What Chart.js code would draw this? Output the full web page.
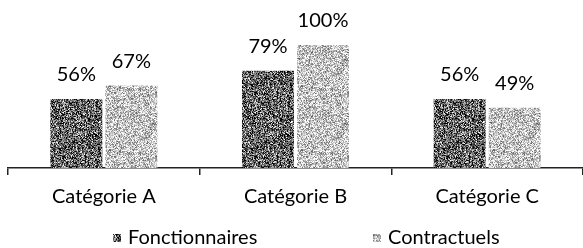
<!DOCTYPE html>
<html>
<head>
<meta charset="utf-8">
<script src="https://cdn.jsdelivr.net/npm/chart.js@4/dist/chart.umd.min.js"></script>
<style>
  html, body { margin: 0; padding: 0; background: #fff; }
  #wrap { width: 583px; height: 248px; }
</style>
</head>
<body>
<div id="wrap"><canvas id="c" width="583" height="248"></canvas></div>
<script>
const categories = ['Catégorie A', 'Catégorie B', 'Catégorie C'];
const seriesNames = ['Fonctionnaires', 'Contractuels'];
const fonctionnaires = [56, 79, 56];
const contractuels = [67, 100, 49];

const FONT = 'Lato, "Open Sans", sans-serif';

// deterministic speckle texture (style only)
function speckle(mean, spread, seed) {
  const c = document.createElement('canvas');
  c.width = 64; c.height = 64;
  const g = c.getContext('2d');
  const img = g.createImageData(64, 64);
  let s = seed >>> 0;
  function rnd() { s = (Math.imul(s, 1664525) + 1013904223) >>> 0; return s / 4294967296; }
  for (let i = 0; i < 64 * 64; i++) {
    let v = mean + (rnd() - 0.5) * spread + (rnd() - 0.5) * spread * 0.6;
    v = Math.max(0, Math.min(255, v));
    img.data[i * 4] = v; img.data[i * 4 + 1] = v; img.data[i * 4 + 2] = v; img.data[i * 4 + 3] = 255;
  }
  g.putImageData(img, 0, 0);
  return g.createPattern(c, 'repeat');
}
const darkFill = speckle(100, 220, 12345);
const lightFill = speckle(196, 140, 67890);

const valueLabels = {
  id: 'valueLabels',
  afterDatasetsDraw(chart) {
    const ctx = chart.ctx;
    ctx.save();
    ctx.font = '20px ' + FONT;
    ctx.fillStyle = '#000';
    ctx.textAlign = 'center';
    ctx.textBaseline = 'alphabetic';
    chart.data.datasets.forEach((ds, di) => {
      const meta = chart.getDatasetMeta(di);
      meta.data.forEach((bar, i) => {
        ctx.fillText(ds.data[i] + '%', bar.x, bar.y - 18);
      });
    });
    ctx.restore();
  }
};

const bottomLegend = {
  id: 'bottomLegend',
  afterDraw(chart) {
    const ctx = chart.ctx;
    const xs = [113, 373];
    const yc = 238;
    ctx.save();
    ctx.font = '20px ' + FONT;
    ctx.textAlign = 'left';
    ctx.textBaseline = 'middle';
    chart.data.datasets.forEach((ds, di) => {
      ctx.fillStyle = ds.backgroundColor;
      ctx.fillRect(xs[di], yc - 4, 8, 8);
      ctx.fillStyle = '#000';
      ctx.fillText(ds.label, xs[di] + 15, yc);
    });
    ctx.restore();
  }
};

new Chart(document.getElementById('c'), {
  type: 'bar',
  data: {
    labels: categories,
    datasets: [
      { label: seriesNames[0], data: fonctionnaires, backgroundColor: darkFill,
        categoryPercentage: 0.574, barPercentage: 0.945 },
      { label: seriesNames[1], data: contractuels, backgroundColor: lightFill,
        categoryPercentage: 0.574, barPercentage: 0.945 }
    ]
  },
  options: {
    responsive: false,
    animation: false,
    devicePixelRatio: 1,
    layout: { padding: { top: 8, left: 8, right: 0, bottom: 0 } },
    plugins: {
      legend: { display: false },
      tooltip: { enabled: false }
    },
    scales: {
      y: { display: false, min: 0, max: 130 },
      x: {
        afterFit(scale) { scale.height = 80; },
        grid: { display: true, drawOnChartArea: false, drawTicks: true, tickLength: 7, color: '#222', lineWidth: 1.5, offset: true },
        border: { display: true, color: '#222', width: 1.5 },
        ticks: { color: '#000', font: { family: FONT, size: 20 }, padding: 10, maxRotation: 0 }
      }
    }
  },
  plugins: [valueLabels, bottomLegend]
});
</script>
</body>
</html>
